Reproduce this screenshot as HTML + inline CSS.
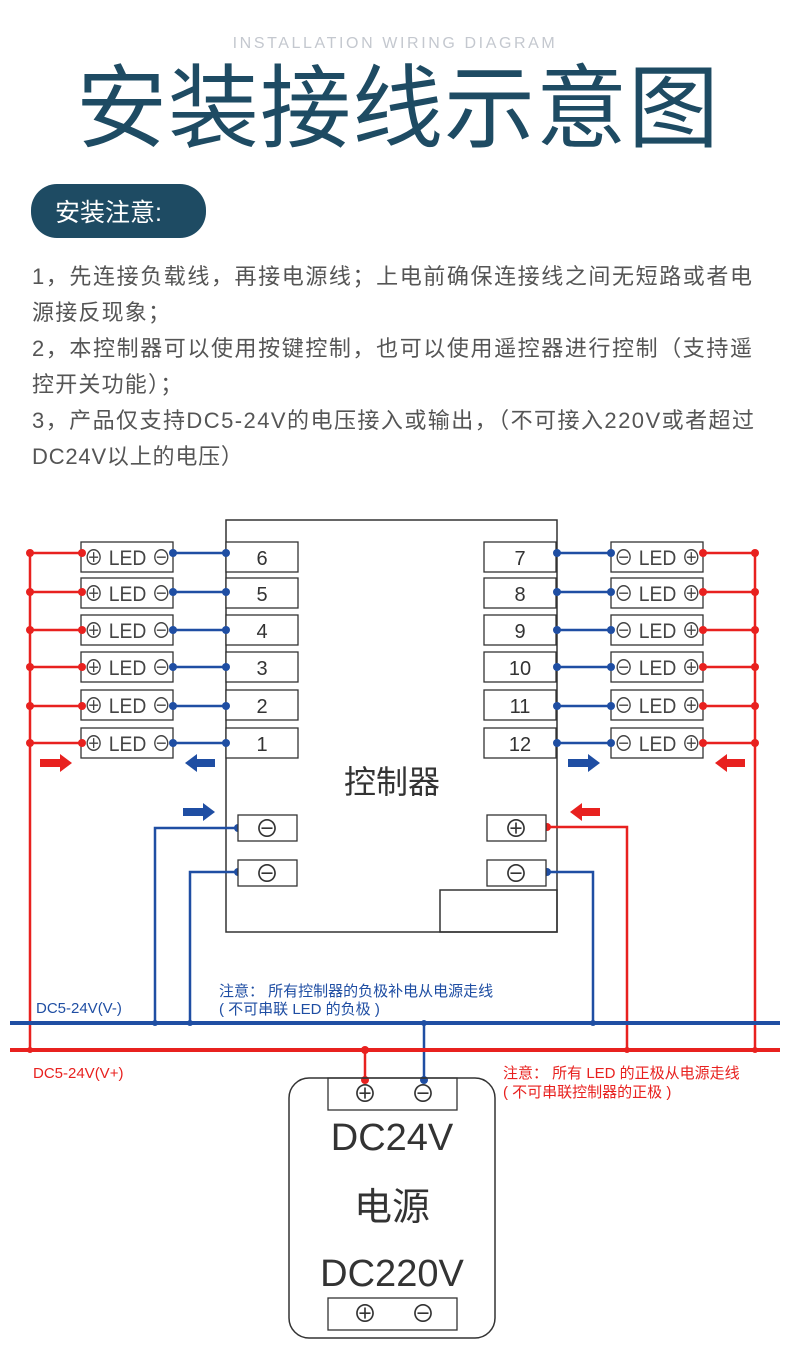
<!DOCTYPE html>
<html><head><meta charset="utf-8"><style>
html,body{margin:0;padding:0;background:#fff;}
svg{display:block;}
</style></head><body>
<svg width="790" height="1361" viewBox="0 0 790 1361" xmlns="http://www.w3.org/2000/svg" font-family="'Liberation Sans','Noto Sans CJK SC',sans-serif">
<text x="395" y="48" text-anchor="middle" font-size="16" letter-spacing="2.6" fill="#c4c8cf">INSTALLATION WIRING DIAGRAM</text>
<text x="398" y="140" text-anchor="middle" font-size="91" fill="#1e4b63" letter-spacing="1">安装接线示意图</text>
<rect x="31" y="184" width="175" height="54" rx="26" fill="#1e4b63"/>
<text x="55" y="221" font-size="25" fill="#fff">安装注意:</text>
<g font-size="22" fill="#555">
<text x="32" y="284" textLength="720" lengthAdjust="spacing">1，先连接负载线，再接电源线；上电前确保连接线之间无短路或者电</text>
<text x="32" y="320" letter-spacing="1.2">源接反现象；</text>
<text x="32" y="356" textLength="720" lengthAdjust="spacing">2，本控制器可以使用按键控制，也可以使用遥控器进行控制（支持遥</text>
<text x="32" y="392" letter-spacing="1.2">控开关功能）；</text>
<text x="32" y="428" textLength="722" lengthAdjust="spacing">3，产品仅支持DC5-24V的电压接入或输出，（不可接入220V或者超过</text>
<text x="32" y="464" letter-spacing="0.8">DC24V以上的电压）</text>
</g>
<g fill="none" stroke="#333" stroke-width="1.5">
<rect x="226" y="520" width="331" height="412" fill="#fff"/>
<rect x="440" y="890" width="117" height="42"/>
</g>
<text x="392" y="793" text-anchor="middle" font-size="32" fill="#333">控制器</text>
<g font-size="20" fill="#333">
<g stroke="#333" stroke-width="1.3" fill="#fff">
<rect x="226" y="542" width="72" height="30"/><rect x="226" y="578" width="72" height="30"/><rect x="226" y="615" width="72" height="30"/><rect x="226" y="652" width="72" height="30"/><rect x="226" y="690" width="72" height="30"/><rect x="226" y="728" width="72" height="30"/>
<rect x="484" y="542" width="72" height="30"/><rect x="484" y="578" width="72" height="30"/><rect x="484" y="615" width="72" height="30"/><rect x="484" y="652" width="72" height="30"/><rect x="484" y="690" width="72" height="30"/><rect x="484" y="728" width="72" height="30"/>
<rect x="81" y="542" width="92" height="30"/><rect x="81" y="578" width="92" height="30"/><rect x="81" y="615" width="92" height="30"/><rect x="81" y="652" width="92" height="30"/><rect x="81" y="690" width="92" height="30"/><rect x="81" y="728" width="92" height="30"/>
<rect x="611" y="542" width="92" height="30"/><rect x="611" y="578" width="92" height="30"/><rect x="611" y="615" width="92" height="30"/><rect x="611" y="652" width="92" height="30"/><rect x="611" y="690" width="92" height="30"/><rect x="611" y="728" width="92" height="30"/>
</g>
<g text-anchor="middle">
<text x="262" y="565">6</text><text x="262" y="601">5</text><text x="262" y="638">4</text><text x="262" y="675">3</text><text x="262" y="713">2</text><text x="262" y="751">1</text>
<text x="520" y="565">7</text><text x="520" y="601">8</text><text x="520" y="638">9</text><text x="520" y="675">10</text><text x="520" y="713">11</text><text x="520" y="751">12</text>
</g>
<g font-size="21" fill="#444" lengthAdjust="spacingAndGlyphs">
<text x="84" y="565" textLength="87" lengthAdjust="spacingAndGlyphs">⊕ LED ⊖</text><text x="84" y="601" textLength="87" lengthAdjust="spacingAndGlyphs">⊕ LED ⊖</text><text x="84" y="638" textLength="87" lengthAdjust="spacingAndGlyphs">⊕ LED ⊖</text><text x="84" y="675" textLength="87" lengthAdjust="spacingAndGlyphs">⊕ LED ⊖</text><text x="84" y="713" textLength="87" lengthAdjust="spacingAndGlyphs">⊕ LED ⊖</text><text x="84" y="751" textLength="87" lengthAdjust="spacingAndGlyphs">⊕ LED ⊖</text>
<text x="614" y="565" textLength="87" lengthAdjust="spacingAndGlyphs">⊖ LED ⊕</text><text x="614" y="601" textLength="87" lengthAdjust="spacingAndGlyphs">⊖ LED ⊕</text><text x="614" y="638" textLength="87" lengthAdjust="spacingAndGlyphs">⊖ LED ⊕</text><text x="614" y="675" textLength="87" lengthAdjust="spacingAndGlyphs">⊖ LED ⊕</text><text x="614" y="713" textLength="87" lengthAdjust="spacingAndGlyphs">⊖ LED ⊕</text><text x="614" y="751" textLength="87" lengthAdjust="spacingAndGlyphs">⊖ LED ⊕</text>
</g>
</g>
<g stroke="#e8211f" stroke-width="2.5" fill="none">
<line x1="30" y1="553" x2="30" y2="1052"/>
<line x1="755" y1="553" x2="755" y2="1052"/>
<path d="M30 553H82M30 592H82M30 630H82M30 667H82M30 706H82M30 743H82"/>
<path d="M703 553H755M703 592H755M703 630H755M703 667H755M703 706H755M703 743H755"/>
<path d="M547 827H627V1050"/>
<line x1="365" y1="1050" x2="365" y2="1080"/>
</g>
<g stroke="#1f4ea3" stroke-width="2.5" fill="none">
<path d="M173 553H226M173 592H226M173 630H226M173 667H226M173 706H226M173 743H226"/>
<path d="M557 553H611M557 592H611M557 630H611M557 667H611M557 706H611M557 743H611"/>
<path d="M238 828H155V1023M238 872H190V1023M547 872H593V1023"/>
<line x1="424" y1="1023" x2="424" y2="1080"/>
</g>
<line x1="10" y1="1023" x2="780" y2="1023" stroke="#1f4ea3" stroke-width="4"/>
<line x1="10" y1="1050" x2="780" y2="1050" stroke="#e8211f" stroke-width="4"/>
<g fill="#e8211f">
<circle cx="30" cy="553" r="4"/><circle cx="30" cy="592" r="4"/><circle cx="30" cy="630" r="4"/><circle cx="30" cy="667" r="4"/><circle cx="30" cy="706" r="4"/><circle cx="30" cy="743" r="4"/>
<circle cx="82" cy="553" r="4"/><circle cx="82" cy="592" r="4"/><circle cx="82" cy="630" r="4"/><circle cx="82" cy="667" r="4"/><circle cx="82" cy="706" r="4"/><circle cx="82" cy="743" r="4"/>
<circle cx="755" cy="553" r="4"/><circle cx="755" cy="592" r="4"/><circle cx="755" cy="630" r="4"/><circle cx="755" cy="667" r="4"/><circle cx="755" cy="706" r="4"/><circle cx="755" cy="743" r="4"/>
<circle cx="703" cy="553" r="4"/><circle cx="703" cy="592" r="4"/><circle cx="703" cy="630" r="4"/><circle cx="703" cy="667" r="4"/><circle cx="703" cy="706" r="4"/><circle cx="703" cy="743" r="4"/>
<circle cx="547" cy="827" r="4"/><circle cx="30" cy="1050" r="3"/><circle cx="627" cy="1050" r="3"/><circle cx="755" cy="1050" r="3"/><circle cx="365" cy="1050" r="4"/><circle cx="365" cy="1080" r="4"/>
<polygon points="40,759 60,759 60,754 72,763 60,772 60,767 40,767"/>
<polygon points="745,759 727,759 727,754 715,763 727,772 727,767 745,767"/>
<polygon points="600,808 582,808 582,803 570,812 582,821 582,816 600,816"/>
</g>
<g fill="#1f4ea3">
<circle cx="173" cy="553" r="4"/><circle cx="173" cy="592" r="4"/><circle cx="173" cy="630" r="4"/><circle cx="173" cy="667" r="4"/><circle cx="173" cy="706" r="4"/><circle cx="173" cy="743" r="4"/>
<circle cx="226" cy="553" r="4"/><circle cx="226" cy="592" r="4"/><circle cx="226" cy="630" r="4"/><circle cx="226" cy="667" r="4"/><circle cx="226" cy="706" r="4"/><circle cx="226" cy="743" r="4"/>
<circle cx="557" cy="553" r="4"/><circle cx="557" cy="592" r="4"/><circle cx="557" cy="630" r="4"/><circle cx="557" cy="667" r="4"/><circle cx="557" cy="706" r="4"/><circle cx="557" cy="743" r="4"/>
<circle cx="611" cy="553" r="4"/><circle cx="611" cy="592" r="4"/><circle cx="611" cy="630" r="4"/><circle cx="611" cy="667" r="4"/><circle cx="611" cy="706" r="4"/><circle cx="611" cy="743" r="4"/>
<circle cx="238" cy="828" r="4"/><circle cx="238" cy="872" r="4"/><circle cx="547" cy="872" r="4"/>
<circle cx="155" cy="1023" r="3"/><circle cx="190" cy="1023" r="3"/><circle cx="593" cy="1023" r="3"/><circle cx="424" cy="1023" r="3"/><circle cx="424" cy="1080" r="4"/>
<polygon points="215,759 197,759 197,754 185,763 197,772 197,767 215,767"/>
<polygon points="568,759 588,759 588,754 600,763 588,772 588,767 568,767"/>
<polygon points="183,808 203,808 203,803 215,812 203,821 203,816 183,816"/>
</g>
<g stroke="#333" stroke-width="1.3" fill="#fff">
<rect x="238" y="815" width="59" height="26"/><rect x="238" y="860" width="59" height="26"/>
<rect x="487" y="815" width="59" height="26"/><rect x="487" y="860" width="59" height="26"/>
</g>
<g font-size="24" fill="#333" text-anchor="middle">
<text x="267" y="837">⊖</text><text x="267" y="882">⊖</text><text x="516" y="837">⊕</text><text x="516" y="882">⊖</text>
</g>
<text x="36" y="1013" font-size="15" fill="#1f4ea3">DC5-24V(V-)</text>
<text x="219" y="996" font-size="15" fill="#1f4ea3">注意：  所有控制器的负极补电从电源走线</text>
<text x="219" y="1014" font-size="15" fill="#1f4ea3">( 不可串联 LED 的负极 )</text>
<text x="33" y="1078" font-size="15" fill="#e8211f">DC5-24V(V+)</text>
<text x="503" y="1078" font-size="15" fill="#e8211f">注意：  所有 LED 的正极从电源走线</text>
<text x="503" y="1097" font-size="15" fill="#e8211f">( 不可串联控制器的正极 )</text>
<rect x="289" y="1078" width="206" height="260" rx="20" fill="none" stroke="#333" stroke-width="1.5"/>
<rect x="328" y="1078" width="129" height="32" fill="none" stroke="#333" stroke-width="1.3"/>
<rect x="328" y="1298" width="129" height="32" fill="none" stroke="#333" stroke-width="1.3"/>
<g font-size="24" fill="#333" text-anchor="middle">
<text x="365" y="1102">⊕</text><text x="423" y="1102">⊖</text>
<text x="365" y="1322">⊕</text><text x="423" y="1322">⊖</text>
</g>
<g font-size="38" fill="#333" text-anchor="middle">
<text x="392" y="1150">DC24V</text>
<text x="392" y="1220">电源</text>
<text x="392" y="1286">DC220V</text>
</g>
</svg>
</body></html>
